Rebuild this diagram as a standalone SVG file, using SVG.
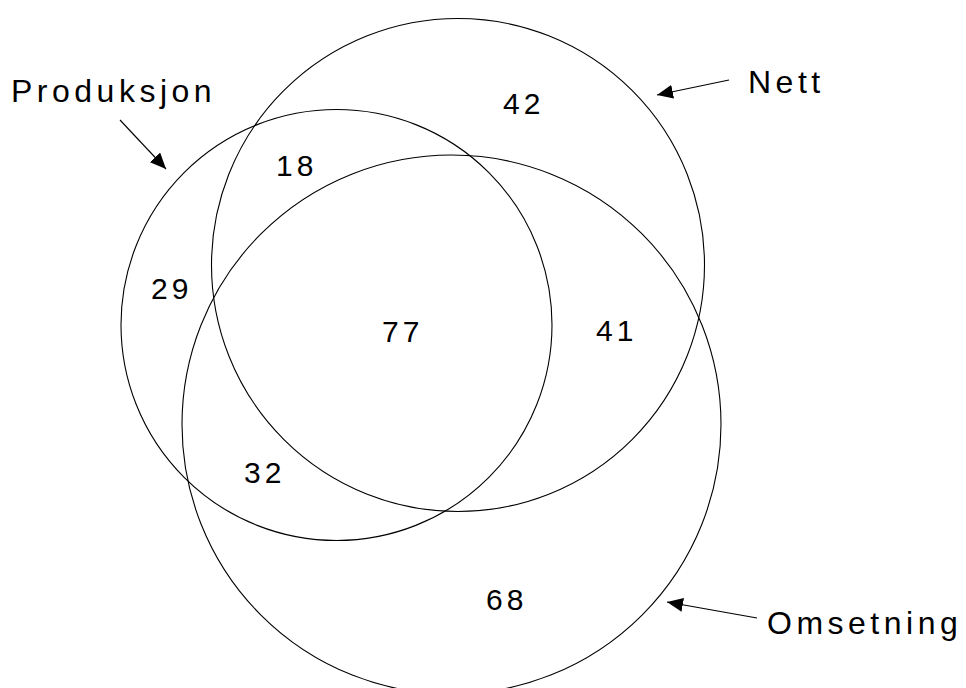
<svg xmlns="http://www.w3.org/2000/svg" width="966" height="688" viewBox="0 0 966 688">
<style>
.c{fill:none;stroke:#000;stroke-width:1.1}
.l{font-family:"Liberation Sans",Arial,sans-serif;font-size:32px;letter-spacing:4.5px;fill:#000}
.n{font-family:"Liberation Sans",Arial,sans-serif;font-size:30px;letter-spacing:4px;fill:#000}
.a{stroke:#000;stroke-width:1.1;fill:none;marker-end:url(#ah)}
</style>
<defs>
<marker id="ah" markerUnits="userSpaceOnUse" markerWidth="18" markerHeight="14" refX="16" refY="7" orient="auto">
<path d="M0,0 L16,7 L0,14 Z" fill="#000"/>
</marker>
</defs>
<rect width="966" height="688" fill="#fff"/>
<g id="produksjon"><circle class="c" cx="336.5" cy="325" r="215.5"/></g>
<g id="nett"><circle class="c" cx="458" cy="265" r="246.5"/></g>
<g id="omsetning"><circle class="c" cx="451.5" cy="424.5" r="269.5"/></g>
<g id="connectors">
<line class="a" x1="120" y1="120" x2="166" y2="169"/>
<line class="a" x1="729" y1="80" x2="657" y2="95"/>
<line class="a" x1="757" y1="618" x2="667" y2="602"/>
</g>
<g id="labels">
<text class="l" x="11" y="102">Produksjon</text>
<text class="l" x="748" y="93">Nett</text>
<text class="l" x="767" y="634">Omsetning</text>
</g>
<g id="numbers">
<text class="n" x="503" y="114">42</text>
<text class="n" x="276" y="176">18</text>
<text class="n" x="151" y="299">29</text>
<text class="n" x="382" y="342">77</text>
<text class="n" x="596" y="341">41</text>
<text class="n" x="244" y="483">32</text>
<text class="n" x="486" y="610">68</text>
</g>
</svg>
